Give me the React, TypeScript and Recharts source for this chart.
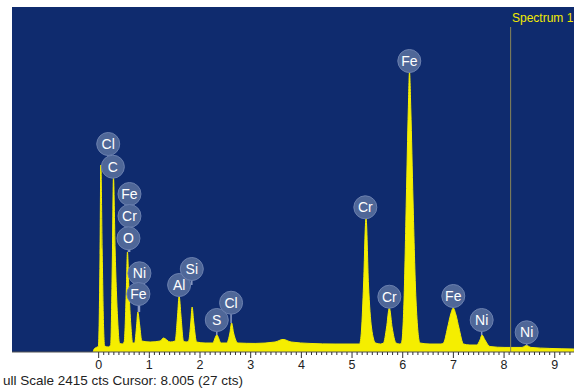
import React from 'react';
import {
  ComposedChart,
  Area,
  Scatter,
  XAxis,
  YAxis,
  ReferenceLine,
} from 'recharts';

// spectrum trace (keV, counts)
const energy = [
  -0.108, -0.089, -0.03, -0.004, 0.026, 0.043, 0.069, 0.099, 0.118, 0.187,
  0.237, 0.27, 0.292, 0.325, 0.375, 0.41, 0.464,
  0.503, 0.546, 0.568, 0.598, 0.635, 0.671,
  0.71, 0.75, 0.773, 0.809, 0.852,
  1.016, 1.213, 1.278, 1.41,
  1.509, 1.558, 1.588, 1.623, 1.673, 1.726,
  1.775, 1.819, 1.844, 1.876, 1.933, 2.101,
  2.249, 2.331, 2.416,
  2.525, 2.59, 2.623, 2.663, 2.751,
  3.087, 3.481, 3.639, 3.797, 4.171, 4.665, 5.059,
  5.148, 5.187, 5.227, 5.276, 5.325, 5.385, 5.464, 5.562,
  5.621, 5.68, 5.736, 5.793, 5.868, 5.937,
  5.976, 6.026, 6.071, 6.11, 6.134, 6.16, 6.203, 6.262, 6.341,
  6.538, 6.755,
  6.805, 6.884, 6.943, 6.998, 7.051, 7.11, 7.199, 7.327,
  7.456, 7.525, 7.564, 7.623, 7.722,
  8.018, 8.353, 8.442, 8.531, 8.905, 9.379,
];
const counts = [
  0, 21, 35, 42, 644, 1309, 714, 154, 42, 35,
  49, 644, 1225, 714, 224, 63, 56,
  70, 434, 700, 434, 189, 63,
  63, 189, 280, 189, 77,
  70, 77, 98, 70,
  77, 259, 392, 259, 77, 70,
  77, 210, 315, 210, 70, 63,
  63, 119, 63,
  63, 133, 203, 133, 63,
  60, 70, 88, 70, 60, 56, 56,
  56, 154, 469, 938, 469, 168, 63, 56,
  63, 168, 308, 168, 63, 56,
  63, 364, 1064, 1694, 1960, 1694, 1064, 364, 63,
  56, 56,
  63, 168, 259, 308, 259, 168, 56, 49,
  49, 84, 119, 84, 38,
  32, 32, 46, 32, 25, 21,
];

// element markers
const labelNames = ['Cl', 'C', 'Fe', 'Cr', 'O', 'Ni', 'Fe', 'Al', 'Si', 'S', 'Cl', 'Cr', 'Cr', 'Fe', 'Fe', 'Ni', 'Ni'];
const labelEnergy = [0.189, 0.28, 0.608, 0.608, 0.588, 0.805, 0.785, 1.588, 1.838, 2.331, 2.613, 5.262, 5.736, 6.13, 6.998, 7.558, 8.446];
const labelCounts = [1456, 1297, 1106, 952, 796, 551, 406, 469, 581, 224, 345, 1013, 387, 2037, 392, 224, 138];
const stemEnd = [1344, 1225, 700, 700, 700, 280, 280, 392, 469, 119, 203, 938, 308, 1960, 308, 119, 46];

const xTicks = Array.from({ length: 94 }, (_, i) => i / 10);

const CURSOR = 8.13;
const FULL_SCALE = 2415;

const data = energy.map((e, i) => ({ e, c: counts[i] }));
const labels = labelNames.map((name, i) => ({ e: labelEnergy[i], c: labelCounts[i], name }));

const FONT = '"Liberation Sans", Arial, sans-serif';

function Tick(props: any) {
  const { x, y, payload } = props;
  const v = payload.value;
  const major = Math.abs(v - Math.round(v)) < 1e-6;
  return (
    <g>
      <line x1={x} x2={x} y1={y} y2={y + (major ? 6 : 3)} stroke="#333" strokeWidth={1} />
      {major && (
        <text x={x} y={y + 17} textAnchor="middle" fontSize={12.5} fill="#222" fontFamily={FONT}>
          {Math.round(v)}
        </text>
      )}
    </g>
  );
}

function Marker(props: any) {
  const { cx, cy, payload } = props;
  return (
    <g>
      <circle cx={cx} cy={cy} r={11.5} fill="#4f6798" stroke="#6b80af" strokeWidth={1} />
      <text
        x={cx}
        y={cy}
        textAnchor="middle"
        dominantBaseline="central"
        fontSize={14}
        fill="#ffffff"
        fontFamily={FONT}
      >
        {payload.name}
      </text>
    </g>
  );
}

export default function App() {
  return (
    <div style={{ width: 574, height: 391, background: '#fff', overflow: 'hidden' }}>
      <style>{'html,body{margin:0;padding:0;overflow:hidden}'}</style>
      <ComposedChart
        width={574}
        height={391}
        data={data}
        margin={{ top: 7, right: 0, left: 12, bottom: 17 }}
      >
        <rect x={12} y={7} width={562} height={345} fill="#0f2b6e" />
        <XAxis
          dataKey="e"
          type="number"
          domain={[-1.71, 9.38]}
          ticks={xTicks}
          interval={0}
          allowDataOverflow
          height={22}
          tickSize={0}
          tickMargin={0}
          tickLine={false}
          axisLine={{ stroke: '#555' }}
          tick={<Tick />}
        />
        <YAxis hide domain={[0, FULL_SCALE]} allowDataOverflow />
        <Area
          dataKey="c"
          type="monotone"
          stroke="#f5ee00"
          strokeWidth={1}
          fill="#f5ee00"
          fillOpacity={1}
          isAnimationActive={false}
          dot={false}
          activeDot={false}
        />
        <ReferenceLine
          segment={[{ x: CURSOR, y: 2275 }, { x: CURSOR, y: 0 }]}
          stroke="#8a8658"
          strokeWidth={1}
        />
        {labels.map((l, i) => (
          <ReferenceLine
            key={i}
            segment={[{ x: l.e, y: l.c }, { x: l.e, y: stemEnd[i] }]}
            stroke="#8c9cc4"
            strokeWidth={1.5}
            ifOverflow="visible"
          />
        ))}
        <Scatter data={labels} dataKey="c" shape={<Marker />} isAnimationActive={false} />
        <text x={512} y={22} fontSize={12} fill="#f2ea00" fontFamily={FONT}>
          Spectrum 1
        </text>
        <text x={3} y={385} fontSize={13.5} fill="#222" fontFamily={FONT}>
          ull Scale 2415 cts Cursor: 8.005 (27 cts)
        </text>
      </ComposedChart>
    </div>
  );
}
